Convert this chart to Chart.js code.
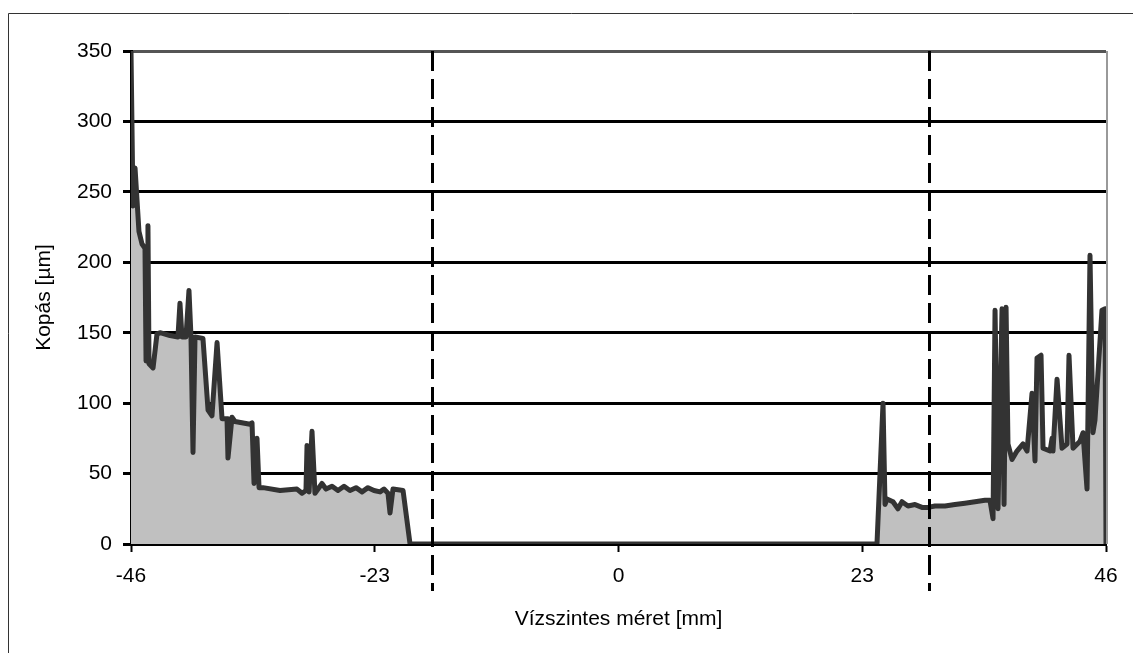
<!DOCTYPE html>
<html>
<head>
<meta charset="utf-8">
<title>Kopás</title>
<script src="https://cdn.jsdelivr.net/npm/chart.js@4/dist/chart.umd.min.js"></script>
<style>
    html, body { margin: 0; padding: 0; background: #fff; }
    #wrap { position: relative; width: 1133px; height: 653px; }
</style>
</head>
<body>
<div id="wrap"><canvas id="wearChart" width="1133" height="653"></canvas></div>
<script>
// Measured profile: horizontal position [mm] and wear [µm]
const xMm = [
    -46.00, -45.81, -45.62, -45.25, -44.96, -44.68, -44.58, -44.49, -44.40, -44.30,
    -43.92, -43.55, -43.26, -42.32, -41.57, -41.38, -41.19, -40.81, -40.53, -40.34,
    -40.15, -39.96, -39.21, -38.73, -38.36, -37.88, -37.41, -36.94, -36.85, -36.47,
    -36.19, -34.77, -34.58, -34.39, -34.11, -33.92, -33.54, -31.94, -30.34, -29.86,
    -29.49, -29.39, -29.20, -28.92, -28.64, -27.98, -27.60, -27.03, -26.47, -25.90,
    -25.34, -24.77, -24.20, -23.64, -23.07, -22.50, -22.13, -21.75, -21.56, -21.28,
    -20.33, -19.67,
    24.39, 24.96, 25.15, 25.33, 25.90, 26.37, 26.75, 27.32, 27.98, 28.64,
    29.20, 29.86, 30.81, 31.75, 32.69, 33.64, 34.58, 35.05, 35.34, 35.53,
    35.81, 36.19, 36.38, 36.57, 36.75, 37.13, 37.60, 38.17, 38.55, 39.02,
    39.30, 39.49, 39.87, 40.06, 40.72, 40.91, 41.00, 41.38, 41.85, 42.32,
    42.51, 42.89, 43.55, 43.83, 44.21, 44.49, 44.77, 44.96, 45.62, 45.91,
    46.00
];
const wearUm = [
    350, 240, 267, 222, 213, 210, 130, 130, 226, 128,
    125, 149, 150, 148, 147, 171, 147, 147, 180, 147,
    65, 147, 146, 95, 91, 143, 89, 89, 61, 90,
    87, 85, 86, 43, 75, 40, 40, 38, 39, 36,
    38, 70, 37, 80, 36, 43, 39, 41, 38, 41,
    38, 40, 37, 40, 38, 37, 39, 36, 22, 39,
    38, 0,
    0, 100, 28, 32, 30, 25, 30, 27, 28, 26,
    26, 27, 27, 28, 29, 30, 31, 31, 18, 166,
    25, 167, 28, 168, 71, 60, 66, 71, 66, 107,
    59, 132, 134, 68, 66, 75, 66, 117, 68, 71,
    134, 68, 73, 79, 39, 205, 79, 88, 166, 167,
    0
];
const xTicks = [-46, -23, 0, 23, 46];
const yTicks = [0, 50, 100, 150, 200, 250, 300, 350];
const zoneEdges = [-17.6, 29.3];

const font = { family: '"Liberation Sans", Arial, sans-serif', size: 21 };

// dashed zone borders + frame bits that Chart.js has no option for
const extrasPlugin = {
    id: 'extras',
    beforeDraw(chart) {
        const ctx = chart.ctx;
        ctx.save();
        ctx.strokeStyle = '#333';
        ctx.lineWidth = 1;
        ctx.beginPath();
        ctx.moveTo(8.5, 660);
        ctx.lineTo(8.5, 13.5);
        ctx.lineTo(1140, 13.5);
        ctx.stroke();
        ctx.restore();
    },
    afterDatasetsDraw(chart) {
        const { ctx, chartArea, scales } = chart;
        ctx.save();
        // right frame of the plot area
        ctx.strokeStyle = '#999';
        ctx.lineWidth = 2;
        ctx.beginPath();
        ctx.moveTo(chartArea.right + 1, chartArea.top);
        ctx.lineTo(chartArea.right + 1, chartArea.bottom);
        ctx.stroke();
        // zone borders
        ctx.strokeStyle = '#000';
        ctx.lineWidth = 3;
        ctx.setLineDash([20, 8]);
        zoneEdges.forEach(v => {
            const px = Math.round(scales.x.getPixelForValue(v)) + 0.5;
            ctx.beginPath();
            ctx.moveTo(px, chartArea.top);
            ctx.lineTo(px, chartArea.bottom + 47);
            ctx.stroke();
        });
        ctx.restore();
    }
};

new Chart(document.getElementById('wearChart'), {
    type: 'line',
    data: {
        datasets: [{
            label: 'Kopás',
            data: xMm.map((x, i) => ({ x: x, y: wearUm[i] })),
            borderColor: '#333333',
            backgroundColor: '#c0c0c0',
            borderWidth: 5,
            fill: 'origin',
            pointRadius: 0,
            tension: 0,
            borderJoinStyle: 'round'
        }]
    },
    options: {
        responsive: false,
        animation: false,
        layout: { padding: { left: 28, top: 51, right: 27, bottom: 17 } },
        plugins: {
            legend: { display: false },
            tooltip: { enabled: false }
        },
        scales: {
            x: {
                type: 'linear',
                min: -46,
                max: 46,
                afterBuildTicks: scale => { scale.ticks = xTicks.map(v => ({ value: v })); },
                afterFit: scale => { scale.height = 92; },
                ticks: {
                    color: '#000',
                    font: font,
                    padding: 12,
                    maxRotation: 0,
                    autoSkip: false,
                    callback: v => String(v)
                },
                grid: {
                    drawOnChartArea: false,
                    drawTicks: true,
                    tickLength: 8,
                    tickWidth: 2,
                    tickColor: '#000'
                },
                border: { color: '#000', width: 3 },
                title: {
                    display: true,
                    text: 'Vízszintes méret [mm]',
                    color: '#000',
                    font: font
                }
            },
            y: {
                min: 0,
                max: 350,
                afterBuildTicks: scale => { scale.ticks = yTicks.map(v => ({ value: v })); },
                afterFit: scale => { scale.width = 103; },
                ticks: {
                    color: '#000',
                    font: font,
                    padding: 11
                },
                grid: {
                    color: ctx => (ctx.tick && ctx.tick.value === 350) ? '#555' : '#000',
                    lineWidth: 3,
                    tickLength: 8,
                    tickColor: '#000'
                },
                border: { color: '#000', width: 3 },
                title: {
                    display: true,
                    text: 'Kopás [µm]',
                    color: '#000',
                    font: font
                }
            }
        }
    },
    plugins: [extrasPlugin]
});
</script>
</body>
</html>
